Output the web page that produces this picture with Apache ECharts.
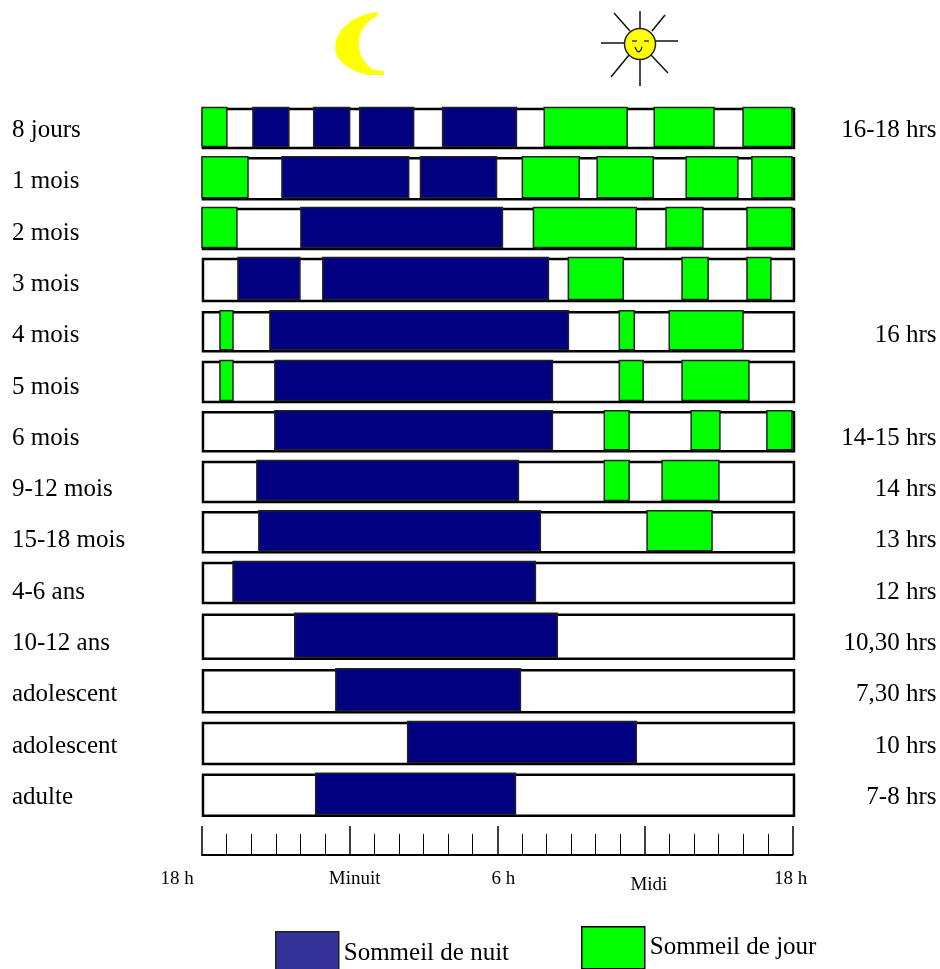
<!DOCTYPE html>
<html><head><meta charset="utf-8">
<style>html,body{margin:0;padding:0;background:#fff}#c{width:940px;height:969px}</style>
<script src="https://cdn.jsdelivr.net/npm/echarts@6/dist/echarts.min.js"></script></head>
<body><div id="c"></div>
<script>
const ageLabels = ['8 jours','1 mois','2 mois','3 mois','4 mois','5 mois','6 mois','9-12 mois','15-18 mois','4-6 ans','10-12 ans','adolescent','adolescent','adulte'];
const totalLabels = ['16-18 hrs','','','','16 hrs','','14-15 hrs','14 hrs','13 hrs','12 hrs','10,30 hrs','7,30 hrs','10 hrs','7-8 hrs'];
const rowPositions = [-0.04,0.94,1.92,2.91,3.92,4.90,5.87,6.85,7.83,8.82,9.87,10.93,11.95,12.96];
const rowHeights = [39,41,40,42,39,40,39,40,40,40,44,42,41,41];
const nightSleep = [
 [0,2.07,3.53],[0,4.54,6.00],[0,6.41,8.60],[0,9.78,12.78],
 [1,3.25,8.40],[1,8.88,11.97],
 [2,4.02,12.21],
 [3,1.46,3.98],[3,4.91,14.08],
 [4,2.76,14.89],
 [5,2.96,14.24],
 [6,2.96,14.24],
 [7,2.23,12.86],
 [8,2.31,13.75],
 [9,1.26,13.55],
 [10,3.77,14.44],
 [11,5.44,12.94],
 [12,8.36,17.65],
 [13,4.62,12.74]
];
const daySleep = [
 [0,0,1.01],[0,13.91,17.28],[0,18.38,20.81],[0,21.99,23.98],
 [1,0,1.87],[1,13.02,15.33],[1,16.06,18.34],[1,19.68,21.78],[1,22.35,23.98],
 [2,0,1.42],[2,13.47,17.65],[2,18.86,20.36],[2,22.15,23.98],
 [3,14.89,17.12],[3,19.51,20.57],[3,22.15,23.12],
 [4,0.73,1.26],[4,16.96,17.57],[4,18.99,21.99],
 [5,0.73,1.26],[5,16.96,17.93],[5,19.51,22.23],
 [6,16.35,17.36],[6,19.88,21.05],[6,22.96,23.98],
 [7,16.35,17.36],[7,18.70,21.01],
 [8,18.09,20.73]
];
const hourTickLabels = {0:'18 h',6:'Minuit',12:'6 h',18:'Midi',24:'18 h'};

const FONT = '"Liberation Serif","Times New Roman",serif';
const chart = echarts.init(document.getElementById('c'),null,{renderer:'canvas'});

function spanRenderer(dy, stroke, lw, fill){
  return function(params, api){
    const i = api.value(0);
    const h = rowHeights[i];
    const a = api.coord([api.value(1), rowPositions[i]]);
    const b = api.coord([api.value(2), rowPositions[i]]);
    return {type:'rect', shape:{x:a[0], y:a[1]-h/2+dy, width:b[0]-a[0], height:h},
      style:{fill:fill, stroke:stroke, lineWidth:lw}};
  };
}
const frames = ageLabels.map((_,i)=>[i,0.04,24.06]);
const moonOutline = [[378,12],[366,14],[352,20],[341,30],[336,40],[335,50],[338,58],[345,65],[355,71],[368,75],[384,75],[384,71],[374,70],[368,66],[362,58],[359,49],[359,38],[362,30],[366,24],[372,19],[377,16]];
const sunRays = [[640,11,640,28],[614,13,630,31],[665,15,652,31],[601,43,624,43],[678,41,656,41],[611,77,629,55],[668,73,651,55],[640,86,640,59]];

chart.setOption({
  animation:false,
  backgroundColor:'#fff',
  textStyle:{fontFamily:FONT,color:'#000'},
  grid:{left:202,top:105,width:590.5,height:718,containLabel:false},
  xAxis:{type:'value',min:0,max:24,interval:6,position:'bottom',offset:32,
    axisLine:{show:true,onZero:false,lineStyle:{color:'#000',width:2}},
    axisTick:{show:true,inside:true,length:29,lineStyle:{color:'#000',width:1.5}},
    minorTick:{show:true,splitNumber:6,length:21,lineStyle:{color:'#000',width:1}},
    splitLine:{show:false},minorSplitLine:{show:false},
    axisLabel:{show:true,margin:15,fontFamily:FONT,fontSize:19,color:'#000',
      formatter:v=>'{h'+v+'|'+hourTickLabels[v]+'}',
      rich:{
        h0:{padding:[0,50,0,0],fontSize:19,fontFamily:FONT},
        h6:{padding:[0,0,0,10],fontSize:19,fontFamily:FONT},
        h12:{padding:[0,0,0,12],fontSize:19,fontFamily:FONT},
        h18:{padding:[6,0,0,8],fontSize:19,fontFamily:FONT},
        h24:{padding:[0,4,0,0],fontSize:19,fontFamily:FONT}
      }}
  },
  yAxis:[
    {type:'category',data:ageLabels,inverse:true,position:'left',
      axisLine:{show:false},axisTick:{show:false},splitLine:{show:false},
      axisLabel:{margin:190,align:'left',fontFamily:FONT,fontSize:25,color:'#000',interval:0}},
    {type:'category',data:totalLabels,inverse:true,position:'right',
      axisLine:{show:false},axisTick:{show:false},splitLine:{show:false},
      axisLabel:{margin:144,align:'right',fontFamily:FONT,fontSize:25,color:'#000',interval:0}},
    {type:'value',min:-0.5,max:13.5,inverse:true,show:false}
  ],
  legend:[
    {left:270,top:926,itemWidth:63,itemHeight:43,itemGap:22,icon:'rect',selectedMode:false,
      data:[{name:'Sommeil de nuit',itemStyle:{color:'#333399',borderColor:'#222',borderWidth:1.5}}],
      textStyle:{fontFamily:FONT,fontSize:25,color:'#000',padding:[10,0,0,0]}},
    {left:576,top:921,itemWidth:63,itemHeight:42,itemGap:13,icon:'rect',selectedMode:false,
      data:[{name:'Sommeil de jour',itemStyle:{color:'#00ff00',borderColor:'#000',borderWidth:1.5}}],
      textStyle:{fontFamily:FONT,fontSize:25,color:'#000',padding:[20,0,0,0]}}
  ],
  graphic:[
    {type:'polygon',shape:{points:moonOutline},style:{fill:'#ffff00'}},
    {type:'group',children:[
      ...sunRays.map(l=>({type:'line',shape:{x1:l[0],y1:l[1],x2:l[2],y2:l[3]},style:{stroke:'#111',lineWidth:1.5}})),
      {type:'circle',shape:{cx:640,cy:44,r:15.5},style:{fill:'#ffff00',stroke:'#222',lineWidth:1.5}},
      {type:'line',shape:{x1:632,y1:41,x2:637,y2:41},style:{stroke:'#111',lineWidth:1.2}},
      {type:'line',shape:{x1:644,y1:41,x2:649,y2:41},style:{stroke:'#111',lineWidth:1.2}},
      {type:'polyline',shape:{points:[[635,47],[637,51],[639,52],[641,50],[642,47]]},style:{fill:'none',stroke:'#111',lineWidth:1.2}}
    ]}
  ],
  series:[
    {name:'Plage',type:'custom',yAxisIndex:2,data:frames,clip:false,z:1,
      renderItem:spanRenderer(0,'#000',2.5,'#fff'),encode:{x:[1,2]}},
    {name:'Sommeil de nuit',type:'custom',yAxisIndex:2,data:nightSleep,clip:false,z:2,
      itemStyle:{color:'#000080'},
      renderItem:spanRenderer(-1.5,'#222',1.5,'#000080'),encode:{x:[1,2]}},
    {name:'Sommeil de jour',type:'custom',yAxisIndex:2,data:daySleep,clip:false,z:3,
      itemStyle:{color:'#00ff00'},
      renderItem:spanRenderer(-1.5,'#222',1.5,'#00ff00'),encode:{x:[1,2]}}
  ]
});
</script></body></html>
